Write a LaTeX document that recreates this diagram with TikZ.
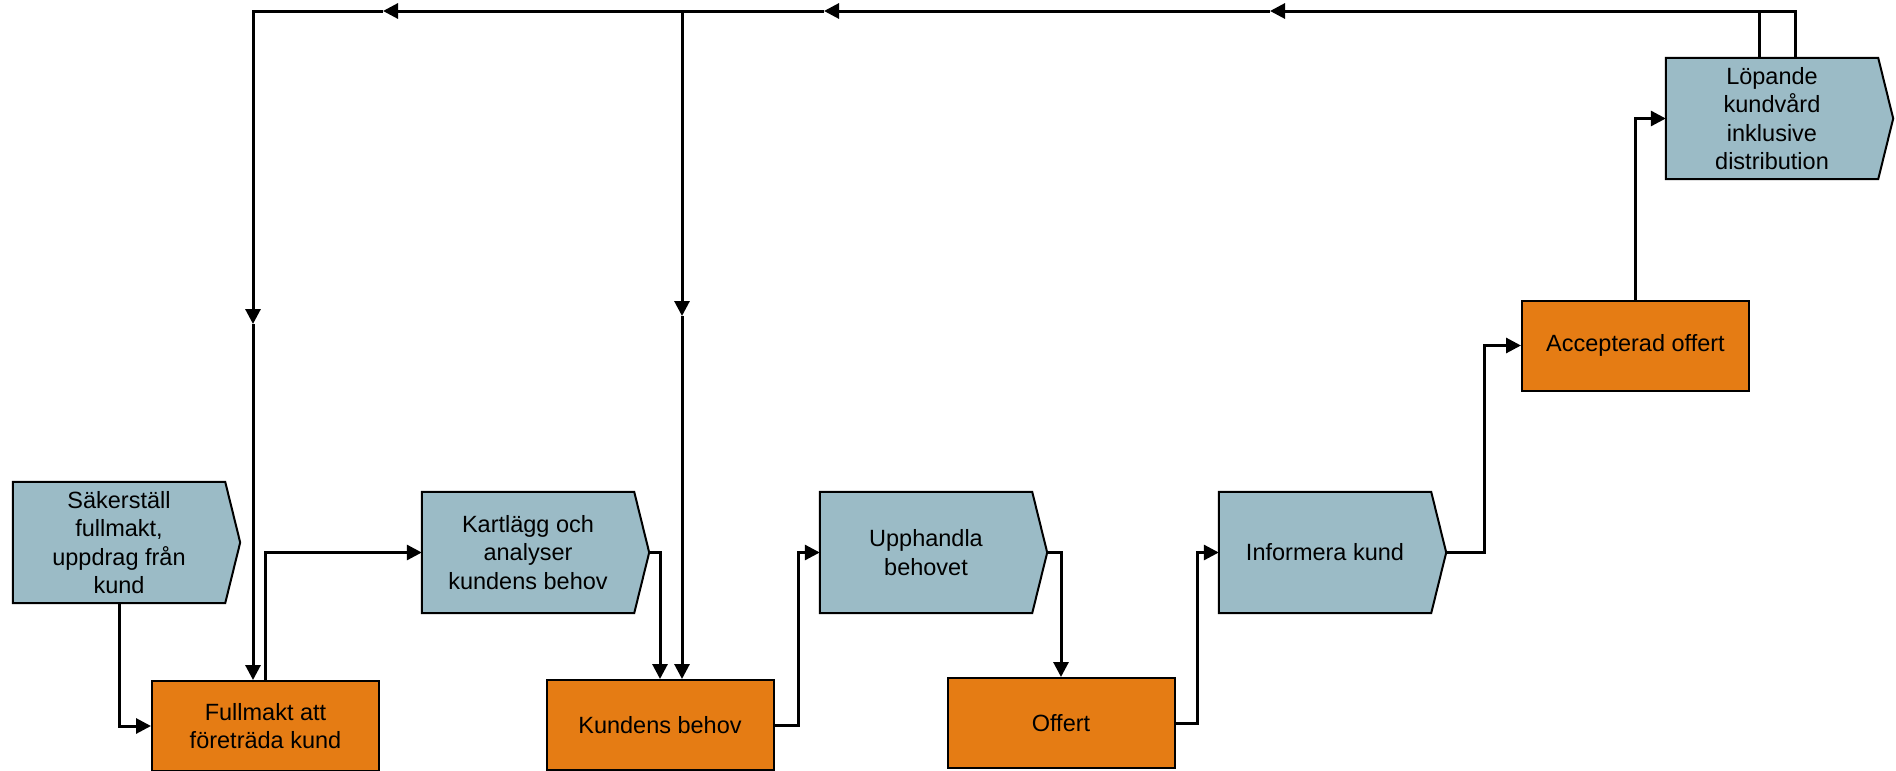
\documentclass[tikz,border=0pt]{standalone}
\usepackage{fontspec}
\setmainfont{Liberation Sans}
\usetikzlibrary{arrows.meta,calc}
\definecolor{stepblue}{HTML}{9BBBC6}
\definecolor{stateorange}{HTML}{E57C14}
\pgfdeclarelayer{bg}
\pgfsetlayers{bg,main}
\begin{document}
\begin{tikzpicture}[x=1pt,y=-1pt,
  txt/.style={font=\fontsize{23.5}{28.5}\selectfont, align=center, text=black, inner sep=0pt},
  activity/.style={txt, minimum width=212pt, minimum height=121pt},
  state/.style={txt, draw=black, line width=2pt, fill=stateorange,
                minimum width=227pt, minimum height=90pt},
  stepoutline/.style={fill=stepblue, draw=black, line width=2pt, line join=miter},
  conn/.style={line width=3pt, line join=miter},
  flow/.style={conn, -{Triangle[length=15pt,width=15pt]}},
]
\useasboundingbox (0,0) rectangle (1896,771);
\clip (0,0) rectangle (1896,771);

% activities (chevron-ended boxes)
\node[activity] (sak) at (119,542.5) {Säkerställ\\fullmakt,\\uppdrag från\\kund};
\node[activity] (kar) at (528,552.5) {Kartlägg och\\analyser\\kundens behov};
\node[activity] (upp) at (926,552.5) {Upphandla\\behovet};
\node[activity] (inf) at (1325,552.5) {Informera kund};
\node[activity] (lop) at (1772,118.5) {Löpande\\kundvård\\inklusive\\distribution};

% states
\node[state] (ful) at (265.5,726) {Fullmakt att\\företräda kund};
\node[state] (kb)  at (660,725)   {Kundens behov};
\node[state] (off) at (1061,723)  {Offert};
\node[state] (acc) at (1635.5,345.5) {Accepterad offert};

% chevron tips
\foreach \n in {sak,kar,upp,inf,lop}
  \coordinate (\n-tip) at ($(\n.east)+(15,0)$);

\begin{pgfonlayer}{bg}
\foreach \n in {sak,kar,upp,inf,lop}
  \filldraw[stepoutline] (\n.north west) -- (\n.north east) -- (\n-tip)
     -- (\n.south east) -- (\n.south west) -- cycle;
\end{pgfonlayer}

% main flow
\draw[flow] (sak.south) |- (ful.west);
\draw[flow] (ful.north) |- (kar.west);
\draw[flow] (kar-tip) -| (kb.north);
\draw[flow] (kb.east) -- ++(24,0) |- (upp.west);
\draw[flow] (upp-tip) -| (off.north);
\draw[flow] (off.east) -- ++(22,0) |- (inf.west);
\draw[flow] (inf-tip) -- ++(38,0) |- (acc.west);
\draw[flow] (acc.north) |- (lop.west);

% feedback loop along the top
\coordinate (fbA) at ($(lop.north west)+(130,0)$);
\coordinate (fbB) at ($(lop.north west)+(94,0)$);
\coordinate (t1270) at (1270,11);
\coordinate (t824) at (824,11);
\coordinate (t682) at (682,11);
\coordinate (t383) at (383,11);
\coordinate (t253) at (253,11);
\coordinate (m253) at (253,324);
\coordinate (m682) at (682,316);

\draw[flow] (fbA) |- (t1270);
\draw[conn] (fbB) -- (fbB |- t1270);
\draw[flow] (t1270) -- (t824);
\draw[flow] (t824) -- (t383);
\draw[flow] (t383) -- (t253) -- (m253);
\draw[flow] (m253) -- (m253 |- ful.north);
\draw[flow] (t682) -- (m682);
\draw[flow] (m682) -- (m682 |- kb.north);
\end{tikzpicture}
\end{document}
